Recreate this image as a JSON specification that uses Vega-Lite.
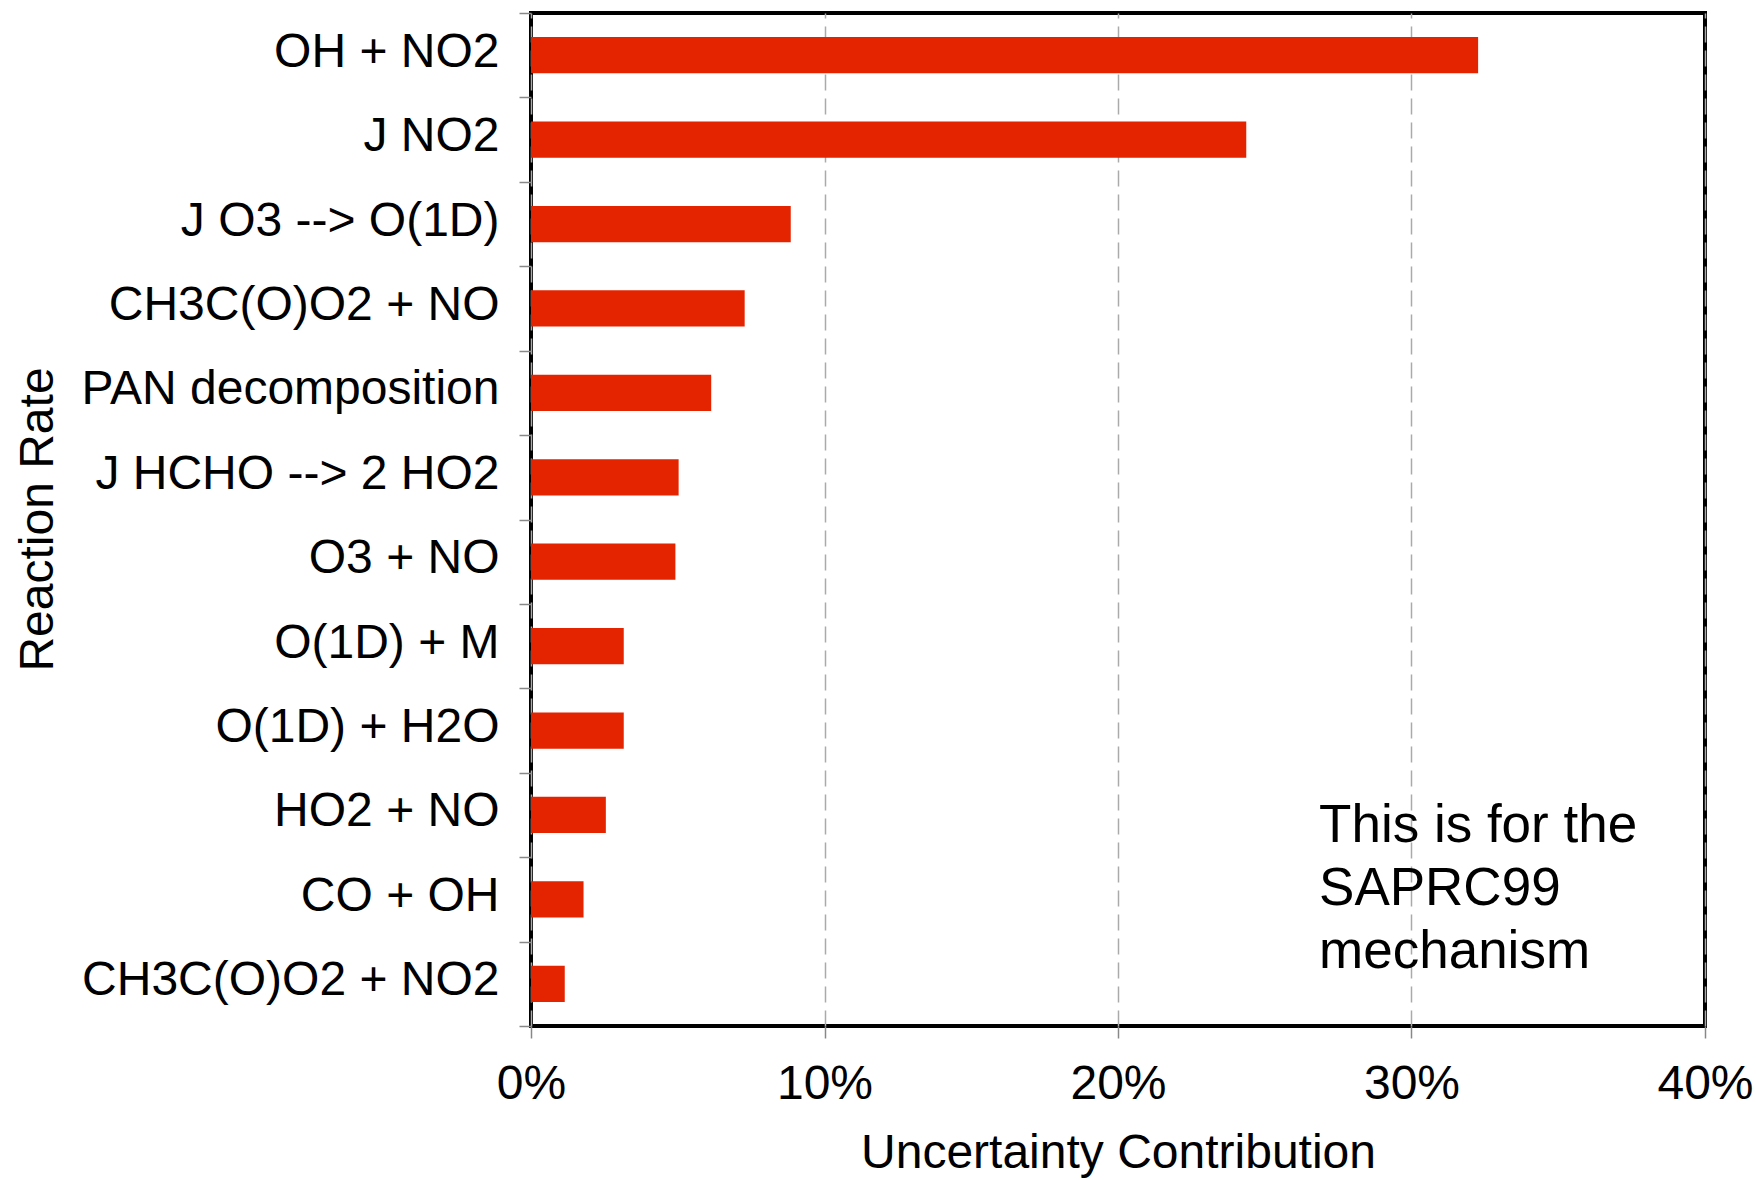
{
  "$schema": "https://vega.github.io/schema/vega-lite/v6.json",
  "autosize": {"type": "none"},
  "padding": {"left": 531, "top": 13, "right": 51, "bottom": 154},
  "width": 1174,
  "height": 1013,
  "background": "white",
  "config": {
    "font": "Liberation Sans",
    "view": {"stroke": "black", "strokeWidth": 4},
    "axis": {"labelFont": "Liberation Sans", "titleFont": "Liberation Sans", "labelColor": "black", "titleColor": "black", "titleFontWeight": "normal"}
  },
  "layer": [
    {
      "data": {"values": [
        {"reaction": "OH + NO2", "contribution": 0.3227},
        {"reaction": "J NO2", "contribution": 0.2437},
        {"reaction": "J O3 --> O(1D)", "contribution": 0.0885},
        {"reaction": "CH3C(O)O2 + NO", "contribution": 0.0728},
        {"reaction": "PAN decomposition", "contribution": 0.0614},
        {"reaction": "J HCHO --> 2 HO2", "contribution": 0.0503},
        {"reaction": "O3 + NO", "contribution": 0.0492},
        {"reaction": "O(1D) + M", "contribution": 0.0316},
        {"reaction": "O(1D) + H2O", "contribution": 0.0316},
        {"reaction": "HO2 + NO", "contribution": 0.0255},
        {"reaction": "CO + OH", "contribution": 0.0179},
        {"reaction": "CH3C(O)O2 + NO2", "contribution": 0.0115}
      ]},
      "mark": {"type": "bar", "color": "#e42300", "height": {"band": 0.43}},
      "encoding": {
        "y": {
          "field": "reaction", "type": "nominal", "sort": null,
          "scale": {"paddingInner": 0, "paddingOuter": 0},
          "axis": {
            "orient": "left", "domain": false, "tickBand": "extent",
            "tickSize": 12, "tickColor": "#888", "tickWidth": 1.5,
            "labelFontSize": 48, "labelPadding": 20, "labelLimit": 600, "labelOffset": -3,
            "title": "Reaction Rate", "titleFontSize": 48, "titleAngle": 270,
            "titleBaseline": "alphabetic", "titleAlign": "center",
            "titleX": -479, "titleY": 506
          }
        },
        "x": {
          "field": "contribution", "type": "quantitative",
          "scale": {"domain": [0, 0.4], "nice": false},
          "axis": {
            "values": [0, 0.1, 0.2, 0.3, 0.4], "format": ".0%",
            "domain": false, "tickSize": 12, "tickColor": "#888", "tickWidth": 1.5,
            "labelFontSize": 48, "labelBaseline": "alphabetic", "labelPadding": 60,
            "labelFlush": false, "labelOverlap": false,
            "grid": true, "gridColor": "#aaa", "gridDash": [16, 8], "gridWidth": 1.5,
            "title": "Uncertainty Contribution", "titleFontSize": 48,
            "titleBaseline": "alphabetic", "titleX": 587, "titleY": 141
          }
        }
      }
    },
    {
      "data": {"values": [{"note": "This is for the SAPRC99 mechanism"}]},
      "mark": {"type": "text", "text": ["This is for the", "SAPRC99", "mechanism"], "align": "left", "baseline": "alphabetic", "fontSize": 53, "lineHeight": 63, "dy": 27, "color": "black"},
      "encoding": {
        "x": {"datum": 0.2685, "type": "quantitative"},
        "y": {"datum": "HO2 + NO", "type": "nominal"}
      }
    }
  ]
}
